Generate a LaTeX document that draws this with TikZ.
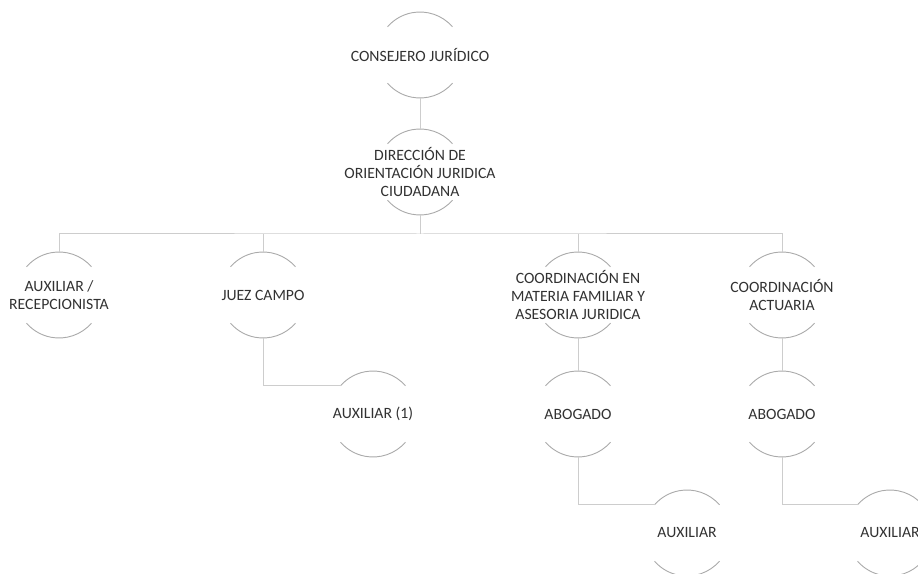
\documentclass[tikz,border=0pt]{standalone}
\usepackage{fontspec}
\setmainfont{Carlito}
\definecolor{arcgray}{RGB}{170,170,170}
\definecolor{linegray}{RGB}{205,205,205}
\definecolor{txtgray}{RGB}{50,50,50}
\tikzset{
  ring/.style={circle,minimum size=86pt,inner sep=0pt,outer sep=0pt,draw=none},
  lbl/.style={align=center,text=txtgray,font=\fontsize{15.7}{18}\selectfont,inner sep=1pt},
  arcline/.style={draw=arcgray,line width=0.9pt},
  conn/.style={draw=linegray,line width=1pt}
}
\newcommand\orgnode[3]{%
  \node[ring] (#1) at (#2) {};
  \node[lbl] (#1-t) at (#1) {#3};
  \draw[arcline] (#1.41) arc[start angle=41,end angle=139,radius=43pt];
  \draw[arcline] (#1.-41) arc[start angle=-41,end angle=-139,radius=43pt];
}
\begin{document}
\begin{tikzpicture}[x=1pt,y=1pt]
\useasboundingbox[fill=white] (0,0) rectangle (918,573);
\orgnode{cons}{420,518}{CONSEJERO JURÍDICO}
\orgnode{dir}{420,401}{DIRECCIÓN DE\\ORIENTACIÓN JURIDICA\\CIUDADANA}
\orgnode{auxr}{59,278}{AUXILIAR /\\RECEPCIONISTA}
\orgnode{juez}{263,278}{JUEZ CAMPO}
\orgnode{coordf}{578,278}{COORDINACIÓN EN\\MATERIA FAMILIAR Y\\ASESORIA JURIDICA}
\orgnode{coorda}{782,278}{COORDINACIÓN\\ACTUARIA}
\orgnode{auxj}{373,159}{AUXILIAR (1)}
\orgnode{abogf}{578,159}{ABOGADO}
\orgnode{aboga}{782,159}{ABOGADO}
\orgnode{auxf}{687,40}{AUXILIAR}
\orgnode{auxa}{890,40}{AUXILIAR}
\coordinate (bus) at (420,339);
\draw[conn] (cons.south) -- (dir.north);
\draw[conn] (dir.south) -- (bus);
\draw[conn] (auxr.north) |- (bus) -| (coorda.north);
\draw[conn] (juez.north) -- (juez.north |- bus);
\draw[conn] (coordf.north) -- (coordf.north |- bus);
\draw[conn] (juez.south) |- (auxj.139);
\draw[conn] (coordf.south) -- (abogf.north);
\draw[conn] (coorda.south) -- (aboga.north);
\draw[conn] (abogf.south) |- (auxf.139);
\draw[conn] (aboga.south) |- (auxa.139);
\end{tikzpicture}
\end{document}
